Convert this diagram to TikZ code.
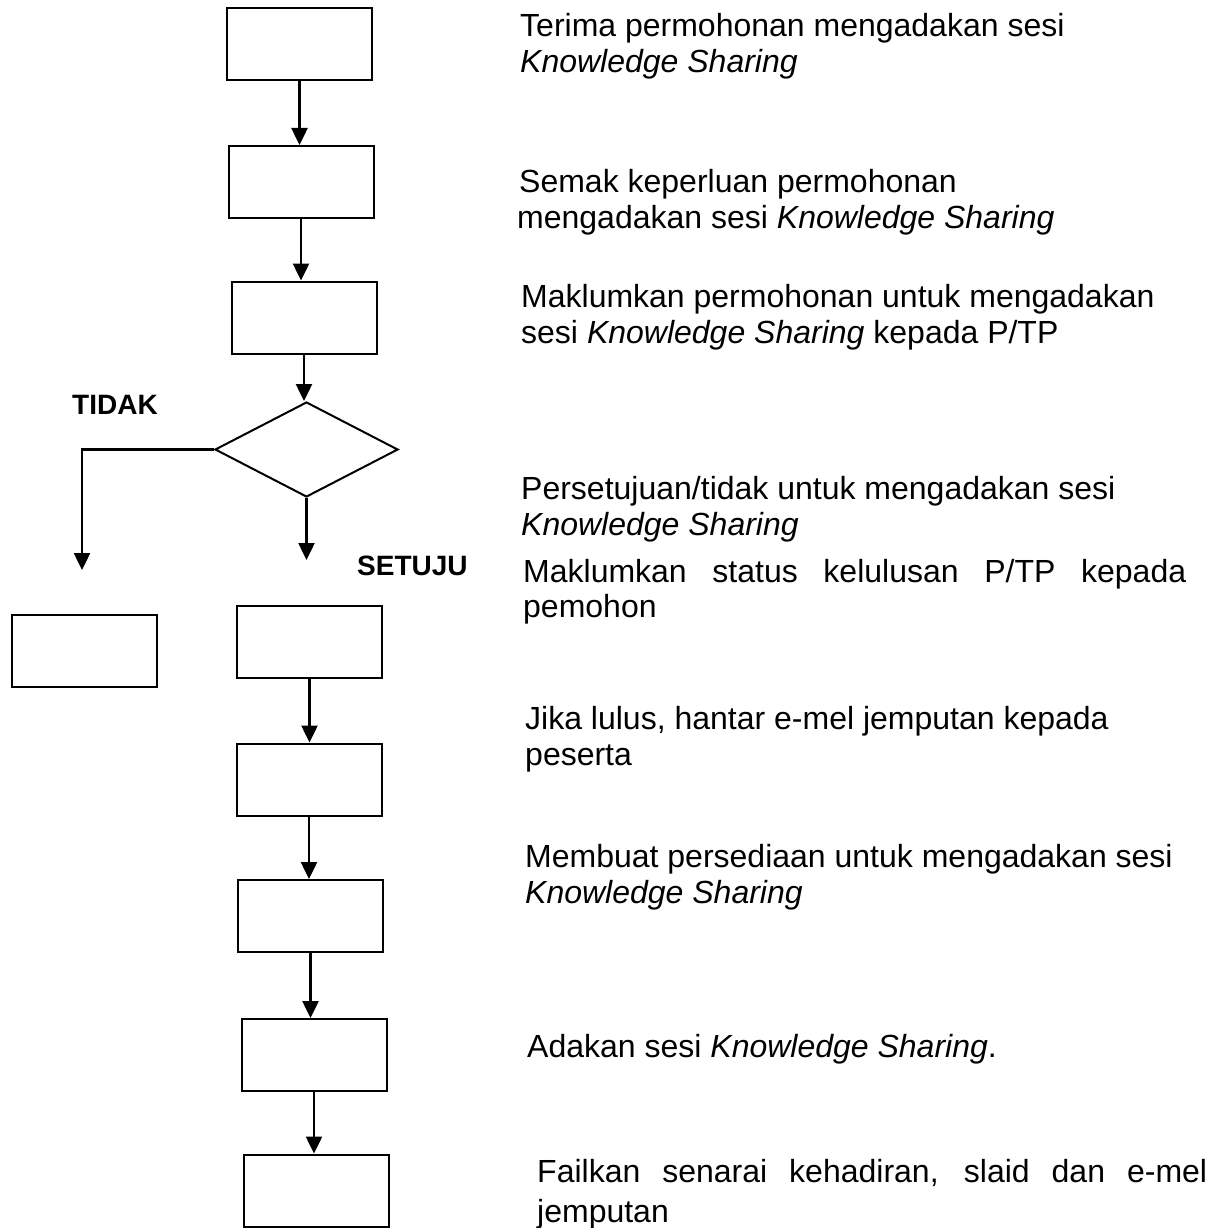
\documentclass[tikz,border=0pt]{standalone}
\usepackage{fontspec}
\setmainfont{Liberation Sans}
\usetikzlibrary{arrows.meta,shapes.geometric}
\begin{document}
\begin{tikzpicture}[x=1pt,y=-1pt,
  stepbox/.style={draw,line width=2pt,inner sep=0pt,minimum width=145pt,minimum height=72pt},
  decision/.style={draw,line width=2pt,diamond,inner sep=0pt,aspect=1.93,minimum width=183pt,minimum height=95pt},
  arr/.style={line width=2.5pt,-{Triangle[width=16pt,length=17pt]}},
  txt/.style={anchor=base west,inner sep=0pt,font=\fontsize{32}{36}\selectfont},
  lbl/.style={anchor=base west,inner sep=0pt,font=\fontsize{28}{32}\selectfont\bfseries}]
\useasboundingbox (0,0) rectangle (1218,1228);

% process boxes
\node[stepbox] (b1) at (299.5,44) {};
\node[stepbox] (b2) at (301,182) {};
\node[stepbox] (b3) at (304,317.5) {};
\node[decision] (d) at (306.5,449.5) {};
\node[stepbox] (bn) at (84,650.5) {};
\node[stepbox] (b5) at (309.5,642) {};
\node[stepbox] (b6) at (309,779.5) {};
\node[stepbox] (b7) at (310.5,916) {};
\node[stepbox] (b8) at (314,1055) {};
\node[stepbox] (b9) at (316,1190.5) {};

% free ends of the two branches
\coordinate (ys) at (305,560);
\coordinate (no) at (82,570);

% connectors
\draw[arr] (b1.south) -- (b1.south |- b2.north);
\draw[arr] (b2.south) -- (b2.south |- b3.north);
\draw[arr] (b3.south) -- (b3.south |- d.north);
\draw[arr] (d.south) -- (d.south |- ys);
\draw[arr] (d.west) -| (no);
\draw[arr] (b5.south) -- (b5.south |- b6.north);
\draw[arr] (b6.south) -- (b6.south |- b7.north);
\draw[arr] (b7.south) -- (b7.south |- b8.north);
\draw[arr] (b8.south) -- (b8.south |- b9.north);

% branch labels
\node[lbl] (tidak) at (72,414) {TIDAK};
\node[lbl] (setuju) at (357,575) {SETUJU};

% step descriptions
\node[txt] (t1a) at (520,37) {Terima permohonan mengadakan sesi};
\node[txt] (t1b) at (520,73) {\itshape Knowledge Sharing};
\node[txt] (t2a) at (519,192) {Semak keperluan permohonan};
\node[txt] (t2b) at (517,228) {mengadakan sesi \textit{Knowledge Sharing}};
\node[txt] (t3a) at (521,307) {Maklumkan permohonan untuk mengadakan};
\node[txt] (t3b) at (521,343) {sesi \textit{Knowledge Sharing} kepada P/TP};
\node[txt] (t4a) at (521,499) {Persetujuan/tidak untuk mengadakan sesi};
\node[txt] (t4b) at (521,535) {\itshape Knowledge Sharing};
\node[txt] (t5a) at (523,582) {\makebox[663pt][s]{Maklumkan status kelulusan P/TP kepada}};
\node[txt] (t5b) at (523,617) {pemohon};
\node[txt] (t6a) at (525,729) {Jika lulus, hantar e-mel jemputan kepada};
\node[txt] (t6b) at (525,765) {peserta};
\node[txt] (t7a) at (525,867) {Membuat persediaan untuk mengadakan sesi};
\node[txt] (t7b) at (525,903) {\itshape Knowledge Sharing};
\node[txt] (t8a) at (527,1057) {Adakan sesi \textit{Knowledge Sharing}.};
\node[txt] (t9a) at (537,1182) {\makebox[670pt][s]{Failkan senarai kehadiran, slaid dan e-mel}};
\node[txt] (t9b) at (537,1222) {jemputan};
\end{tikzpicture}
\end{document}
